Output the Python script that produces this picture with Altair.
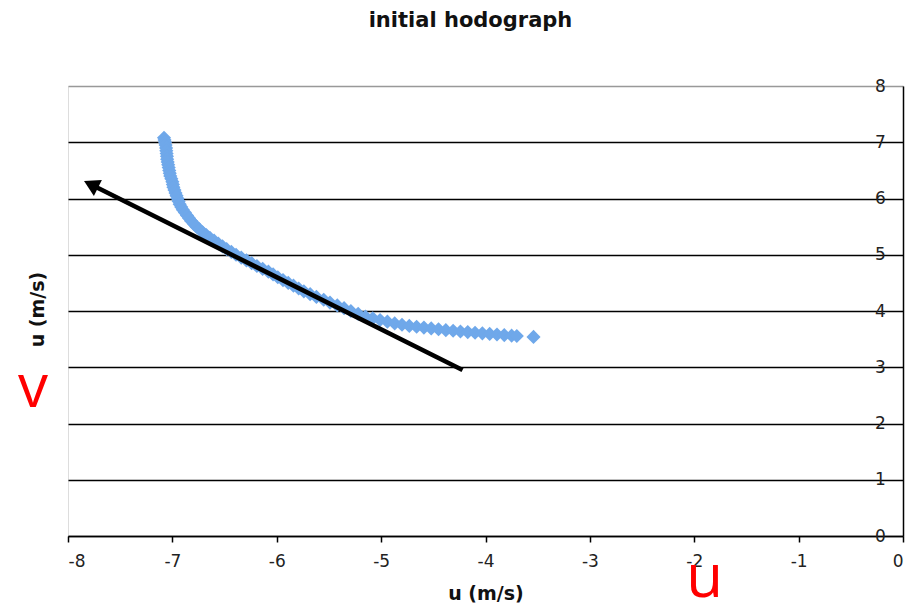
import altair as alt
import pandas as pd

# hodograph points (u, v)
u_vals = [-7.08, -7.075, -7.07, -7.065, -7.06, -7.058, -7.055, -7.052, -7.05, -7.045,
          -7.04, -7.035, -7.03, -7.025, -7.02, -7.01, -7.00, -6.995, -6.99, -6.98,
          -6.97, -6.96, -6.95, -6.94, -6.93, -6.915, -6.90, -6.88, -6.86, -6.84,
          -6.82, -6.795, -6.77, -6.74, -6.71, -6.675, -6.64, -6.60, -6.56, -6.52,
          -6.48, -6.435, -6.39, -6.34, -6.29, -6.24, -6.19, -6.135, -6.08, -6.035,
          -5.99, -5.94, -5.89, -5.84, -5.79, -5.74, -5.68, -5.62, -5.55, -5.49,
          -5.42, -5.355, -5.29, -5.22, -5.15, -5.08, -5.01, -4.94, -4.87, -4.80,
          -4.73, -4.66, -4.59, -4.52, -4.45, -4.38, -4.31, -4.24, -4.17, -4.10,
          -4.03, -3.96, -3.89, -3.82, -3.75, -3.70, -3.54]
v_vals = [7.08, 7.04, 7.00, 6.95, 6.90, 6.85, 6.80, 6.75, 6.70, 6.65,
          6.60, 6.55, 6.50, 6.45, 6.40, 6.35, 6.30, 6.25, 6.20, 6.15,
          6.10, 6.05, 6.00, 5.95, 5.90, 5.85, 5.80, 5.75, 5.70, 5.65,
          5.60, 5.55, 5.50, 5.45, 5.40, 5.35, 5.30, 5.25, 5.20, 5.15,
          5.10, 5.05, 5.00, 4.95, 4.90, 4.85, 4.80, 4.75, 4.70, 4.65,
          4.60, 4.55, 4.50, 4.45, 4.40, 4.35, 4.30, 4.25, 4.20, 4.15,
          4.10, 4.05, 4.00, 3.95, 3.90, 3.87, 3.84, 3.81, 3.78, 3.755,
          3.735, 3.72, 3.705, 3.69, 3.675, 3.66, 3.648, 3.636, 3.625, 3.614,
          3.603, 3.593, 3.583, 3.572, 3.562, 3.555, 3.54]

# arrow (tail -> head)
arrow_u = [-4.22, -7.78]
arrow_v = [2.95, 6.25]
arrow_angle = [296.5]

# red annotations
note_text = ["v", "u"]
note_u = [-8.335, -1.90]
note_v = [2.62, -0.76]

x_ticks = [-8, -7, -6, -5, -4, -3, -2, -1, 0]
y_ticks = [0, 1, 2, 3, 4, 5, 6, 7, 8]

pts = pd.DataFrame({"u": u_vals, "v": v_vals})
arrow_line = pd.DataFrame({"u": [arrow_u[0]], "v": [arrow_v[0]],
                           "u2": [arrow_u[1]], "v2": [arrow_v[1]]})
arrow_head = pd.DataFrame({"u": [arrow_u[1]], "v": [arrow_v[1]], "a": arrow_angle})
notes = pd.DataFrame({"t": note_text, "u": note_u, "v": note_v})

FONT = "DejaVu Sans"
W, H = 835, 450

xscale = alt.Scale(domain=[-8, 0], nice=False, zero=False)
yscale = alt.Scale(domain=[0, 8], nice=False, zero=False)

xaxis = alt.Axis(values=x_ticks, title="u (m/s)", grid=False, domainColor="black",
                 domainWidth=1.5, tickColor="black", tickSize=6, tickWidth=1.5,
                 labelFont=FONT, labelFontSize=17, labelColor="#222", labelPadding=11,
                 labelExpr="'' + datum.value",
                 titleFont=FONT, titleFontSize=19, titleFontWeight="bold",
                 titleColor="#111", titlePadding=15)
yaxis = alt.Axis(values=y_ticks, orient="right", title="u (m/s)", grid=True,
                 gridColor={"condition": {"test": "datum.value == 8", "value": "#999"},
                            "value": "black"},
                 gridWidth=1.5, domainColor="black", domainWidth=1.5,
                 tickSize=0, labelAlign="center", labelBaseline="middle",
                 labelPadding=-23, labelExpr="'' + datum.value",
                 labelFont=FONT, labelFontSize=17, labelColor="#222",
                 titleFont=FONT, titleFontSize=19, titleFontWeight="bold",
                 titleColor="#111", titleAngle=270, titleX=-W - 31, titleY=H / 2 - 2,
                 titleAlign="center", titleBaseline="middle")

base_points = alt.Chart(pts).mark_point(
    shape="diamond", filled=True, size=200, color="#6fa8ea", opacity=1
).encode(
    x=alt.X("u:Q", scale=xscale, axis=xaxis),
    y=alt.Y("v:Q", scale=yscale, axis=yaxis),
)

line = alt.Chart(arrow_line).mark_rule(color="black", strokeWidth=4.5).encode(
    x=alt.X("u:Q", scale=xscale), y=alt.Y("v:Q", scale=yscale),
    x2="u2:Q", y2="v2:Q",
)

head = alt.Chart(arrow_head).mark_point(
    shape="triangle-up", filled=True, size=320, color="black", opacity=1
).encode(
    x=alt.X("u:Q", scale=xscale), y=alt.Y("v:Q", scale=yscale),
    angle=alt.Angle("a:Q", scale=None),
)

text = alt.Chart(notes).mark_text(
    color="#ff0000", font="Open Sans", fontSize=60, align="center", baseline="middle"
).encode(
    x=alt.X("u:Q", scale=xscale), y=alt.Y("v:Q", scale=yscale), text="t:N",
)

chart = alt.layer(base_points, line, head, text).properties(
    width=W, height=H,
    title=alt.TitleParams("initial hodograph", font=FONT, fontSize=21,
                          fontWeight="bold", color="#111", anchor="middle",
                          dx=-15, offset=46),
    autosize=alt.AutoSizeParams(type="none"),
    padding={"left": 68, "top": 86, "right": 17, "bottom": 73},
).configure_view(stroke="#999", strokeWidth=1.5).configure(background="white")

chart.save("out.html", embed_options={"renderer": "svg", "actions": False})
